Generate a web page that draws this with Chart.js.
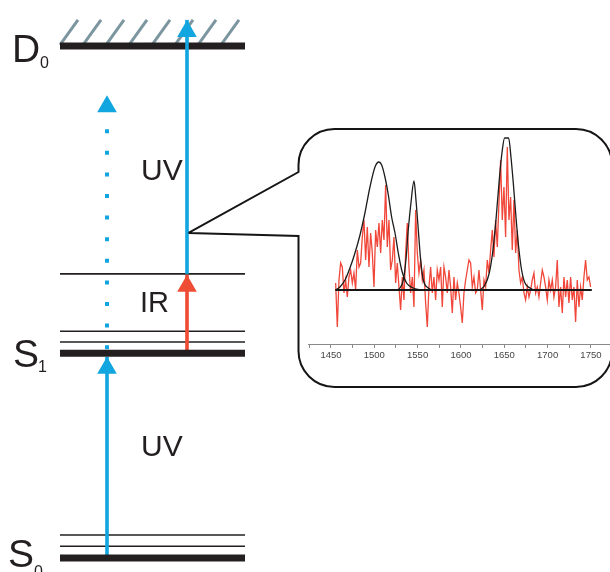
<!DOCTYPE html>
<html>
<head>
<meta charset="utf-8">
<script src="https://cdn.jsdelivr.net/npm/chart.js@4.4.1/dist/chart.umd.min.js"></script>
<style>
  html, body { margin: 0; padding: 0; background: #ffffff; }
  #wrap { position: relative; width: 610px; height: 572px; overflow: hidden; }
  #diagram { position: absolute; left: 0; top: 0; }
  #spectrum { position: absolute; left: 300px; top: 130px; }
</style>
</head>
<body>
<div id="wrap">
  <canvas id="diagram" width="610" height="572"></canvas>
  <canvas id="spectrum" width="310" height="255"></canvas>
</div>
<script>
// ---------- energy-level scheme (arbitrary energy units: S0 origin = 0, D0 = 100) ----------
const s0Levels = [0, 2.3, 4.5];            // S0 origin + vibrational levels
const s1Levels = [40, 42.2, 44.3, 55.5];   // S1 origin + vibrational levels
const d0Levels = [100];                    // ionisation limit D0
const stateNames = ['S', 'S', 'D'];
const stateSubs = ['0', '1', '0'];

// transitions: start / end energies and their labels
const transFrom = [0, 40, 55.5, 40];
const transTo = [39.3, 55.3, 105.1, 90.4];
const transText = ['UV', 'IR', 'UV', ''];

// ---------- IR spectrum (wavenumber / cm-1, signal in arbitrary units) ----------
const wnTicks = [1450, 1500, 1550, 1600, 1650, 1700, 1750];
const irStart = 1455.4;
const irStep = 1.923;
const irSignal = [
  7, -37, 10, 27, 23, -3, 10, -7, 13, 20,
  7, 17, 0, 40, 23, 27, 53, 70, 30, 63,
  23, 57, 37, 3, 60, 43, 67, 37, 70, 50,
  105, 43, 70, 20, 30, 53, 7, 27, 3, -20,
  13, -10, 37, 67, 23, -3, 13, -17, 80, 37,
  17, 30, 10, 20, -13, -37, 3, 23, -3, 13,
  -10, 20, 10, 23, -17, 23, 13, -3, 20, 3,
  -23, 13, -10, 7, -3, -17, -33, -3, 10, 20,
  30, 27, 3, 13, -3, 0, 20, 0, -20, 10,
  3, 30, 17, 40, 60, 33, 70, 43, 87, 130,
  70, 103, 53, 143, 70, 93, 40, 90, 37, 60,
  20, 7, 13, -3, -10, 3, -7, 0, 10, 17,
  -3, 3, -7, 7, 20, 13, 3, -10, 10, 0,
  10, -7, 3, 30, -17, 3, -23, 13, -7, 10,
  -13, 13, -10, 3, -32, 10, -17, 3, -10, 13,
  30, 10, 13, 3
];
// calculated band profiles
const fit1Wn = [1455.4, 1460.4, 1466.2, 1471.9, 1477.7, 1483.5, 1489.2, 1495.0, 1500.8, 1505.4, 1508.5, 1512.3, 1516.2, 1520.0, 1523.9, 1527.7, 1531.6, 1537.3, 1545.0, 1552.7];
const fit1Val = [0, 3, 10, 22, 37, 55, 77, 103, 123, 128, 125, 113, 95, 73, 57, 37, 20, 7, 2, 0];
const fit2Wn = [1525.8, 1529.6, 1533.5, 1536.5, 1539.2, 1542.3, 1545.8, 1548.1, 1550.8, 1553.5, 1556.6, 1562.3, 1566.2];
const fit2Val = [0, 2, 10, 30, 60, 87, 109, 90, 60, 30, 10, 2, 0];
const fit3Wn = [1621.9, 1627.7, 1632.7, 1636.5, 1640.4, 1644.2, 1647.3, 1650.4, 1655.0, 1657.7, 1660.4, 1663.5, 1666.6, 1670.0, 1673.9, 1679.7, 1683.5];
const fit3Val = [0, 5, 17, 37, 70, 110, 137, 152, 152, 133, 107, 73, 43, 20, 7, 2, 0];
const baseWn = [1455, 1751];

// ---------- styling & layout ----------
const INK = '#231f20';
const BLUE = '#12a6e0';
const RED = '#ef4c35';
const HATCH = '#7c96a0';
const FONT = "'Liberation Sans', Arial, Helvetica, sans-serif";
Chart.defaults.font.family = FONT;

const LEVEL_X = [60, 245];                       // horizontal span of level lines
const COL_X = [107, 187, 187, 107];              // column of each transition arrow
const TRANS_COLOR = [BLUE, RED, BLUE, BLUE];
const TRANS_DOTTED = [false, false, false, true];
const STATE_LABEL = [                             // text placement relative to level
  { x: 8, dy: 9, sx: 34, sdy: 19 },
  { x: 13, dy: 14, sx: 38, sdy: 19 },
  { x: 12, dy: 16, sx: 40, sdy: 22 }
];
const TRANS_LABEL = [
  { x: 141, E: 19.9, size: 30 },
  { x: 140, E: 48.0, size: 29 },
  { x: 141, E: 73.8, size: 30 }
];

function hline(E, width, order) {
  return {
    data: [{ x: LEVEL_X[0], y: E }, { x: LEVEL_X[1], y: E }],
    showLine: true, borderColor: INK, borderWidth: width,
    pointRadius: 0, borderCapStyle: 'butt', order
  };
}

const diagramSets = [];
[s0Levels, s1Levels].forEach(list => list.forEach((E, i) =>
  diagramSets.push(hline(E, i === 0 ? 7 : 1.6, i === 0 ? 0 : 2))));
d0Levels.forEach(E => diagramSets.push(hline(E, 7, 2)));
transFrom.forEach((E0, i) => diagramSets.push({
  data: [{ x: COL_X[i], y: E0 }, { x: COL_X[i], y: transTo[i] }],
  showLine: true,
  borderColor: TRANS_COLOR[i],
  borderWidth: TRANS_DOTTED[i] ? 4 : 3.6,
  borderDash: TRANS_DOTTED[i] ? [0.001, 21.6] : [],
  borderDashOffset: TRANS_DOTTED[i] ? 15.6 : 0,
  borderCapStyle: TRANS_DOTTED[i] ? 'square' : 'butt',
  pointRadius: 0,
  order: 1
}));

// hatching above the ionisation limit
const hatchPlugin = {
  id: 'hatch',
  beforeDatasetsDraw(chart) {
    const { ctx, scales: { x, y } } = chart;
    const base = y.getPixelForValue(d0Levels[0]) - 1;
    ctx.save();
    ctx.strokeStyle = HATCH;
    ctx.lineWidth = 3;
    for (let k = 0; k < 8; k++) {
      const x0 = x.getPixelForValue(LEVEL_X[0] + 23 * k);
      ctx.beginPath();
      ctx.moveTo(x0, base);
      ctx.lineTo(x0 + 18, base - 25);
      ctx.stroke();
    }
    ctx.restore();
  }
};

// arrow heads, state / transition labels and the callout frame
const overlayPlugin = {
  id: 'overlay',
  afterDatasetsDraw(chart) {
    const { ctx, scales: { x, y } } = chart;
    ctx.save();
    transTo.forEach((E, i) => {
      const cx = x.getPixelForValue(COL_X[i]);
      const ty = y.getPixelForValue(E);
      ctx.fillStyle = TRANS_COLOR[i];
      ctx.beginPath();
      ctx.moveTo(cx, ty);
      ctx.lineTo(cx - 9.8, ty + 17);
      ctx.lineTo(cx + 9.8, ty + 17);
      ctx.closePath();
      ctx.fill();
    });

    ctx.fillStyle = INK;
    ctx.textBaseline = 'alphabetic';
    [s0Levels[0], s1Levels[0], d0Levels[0]].forEach((E, i) => {
      const py = y.getPixelForValue(E);
      const p = STATE_LABEL[i];
      ctx.font = `39px ${FONT}`;
      ctx.fillText(stateNames[i], p.x, py + p.dy);
      ctx.font = `16px ${FONT}`;
      ctx.fillText(stateSubs[i], p.sx, py + p.sdy);
    });
    transText.forEach((t, i) => {
      if (!t) return;
      const p = TRANS_LABEL[i];
      ctx.font = `${p.size}px ${FONT}`;
      ctx.fillText(t, p.x, y.getPixelForValue(p.E));
    });

    // callout from the upper UV arrow to the spectrum
    const tipX = x.getPixelForValue(COL_X[2]) + 1.5;
    const tipY = y.getPixelForValue(63.5);
    ctx.strokeStyle = '#151515';
    ctx.lineWidth = 2;
    ctx.lineJoin = 'miter';
    ctx.beginPath();
    ctx.moveTo(tipX, tipY);
    ctx.lineTo(298.5, 172);
    ctx.lineTo(298.5, 165);
    ctx.arcTo(298.5, 129, 334.5, 129, 36);
    ctx.lineTo(576, 129);
    ctx.arcTo(612, 129, 612, 165, 36);
    ctx.lineTo(612, 351);
    ctx.arcTo(612, 387, 576, 387, 36);
    ctx.lineTo(334.5, 387);
    ctx.arcTo(298.5, 387, 298.5, 351, 36);
    ctx.lineTo(298.5, 236);
    ctx.lineTo(tipX, tipY);
    ctx.stroke();
    ctx.restore();
  }
};

new Chart(document.getElementById('diagram'), {
  type: 'scatter',
  data: { datasets: diagramSets },
  options: {
    responsive: false, animation: false, devicePixelRatio: 1,
    layout: { padding: 0 },
    plugins: { legend: { display: false }, tooltip: { enabled: false } },
    scales: {
      x: { type: 'linear', display: false, min: 0, max: 610 },
      y: { type: 'linear', display: false, min: -2.734, max: 108.984 }
    }
  },
  plugins: [hatchPlugin, overlayPlugin]
});

// ---------- inset spectrum ----------
const irPoints = irSignal.map((v, i) => ({ x: irStart + i * irStep, y: v }));
const toPts = (wn, val) => wn.map((w, i) => ({ x: w, y: val[i] }));
const fitStyle = {
  showLine: true, borderColor: '#1c1c1c', borderWidth: 1.3, pointRadius: 0,
  cubicInterpolationMode: 'monotone', order: 1
};

new Chart(document.getElementById('spectrum'), {
  type: 'scatter',
  data: {
    datasets: [
      { data: baseWn.map(w => ({ x: w, y: 0 })), showLine: true, borderColor: '#161616', borderWidth: 2, pointRadius: 0, order: 0 },
      Object.assign({ data: toPts(fit1Wn, fit1Val) }, fitStyle),
      Object.assign({ data: toPts(fit2Wn, fit2Val) }, fitStyle),
      Object.assign({ data: toPts(fit3Wn, fit3Val) }, fitStyle),
      { data: irPoints, showLine: true, borderColor: '#f0473a', borderWidth: 1.3, pointRadius: 0, order: 2 }
    ]
  },
  options: {
    responsive: false, animation: false, devicePixelRatio: 1,
    layout: { padding: { left: 8, right: 0, top: 0, bottom: 0 } },
    plugins: { legend: { display: false }, tooltip: { enabled: false } },
    scales: {
      x: {
        type: 'linear', min: 1423.5, max: 1772,
        afterFit(s) { s.height = 41; },
        border: { display: true, color: '#8a8a8a', width: 1 },
        grid: { drawOnChartArea: false, drawTicks: true, tickLength: 4, color: '#8a8a8a' },
        ticks: {
          stepSize: 25, includeBounds: false, autoSkip: false, maxRotation: 0, padding: 2,
          color: '#454545', font: { size: 9.5, family: FONT },
          callback: v => (wnTicks.includes(v) ? String(v) : '')
        }
      },
      y: { display: false, min: -54, max: 160 }
    }
  }
});
</script>
</body>
</html>
